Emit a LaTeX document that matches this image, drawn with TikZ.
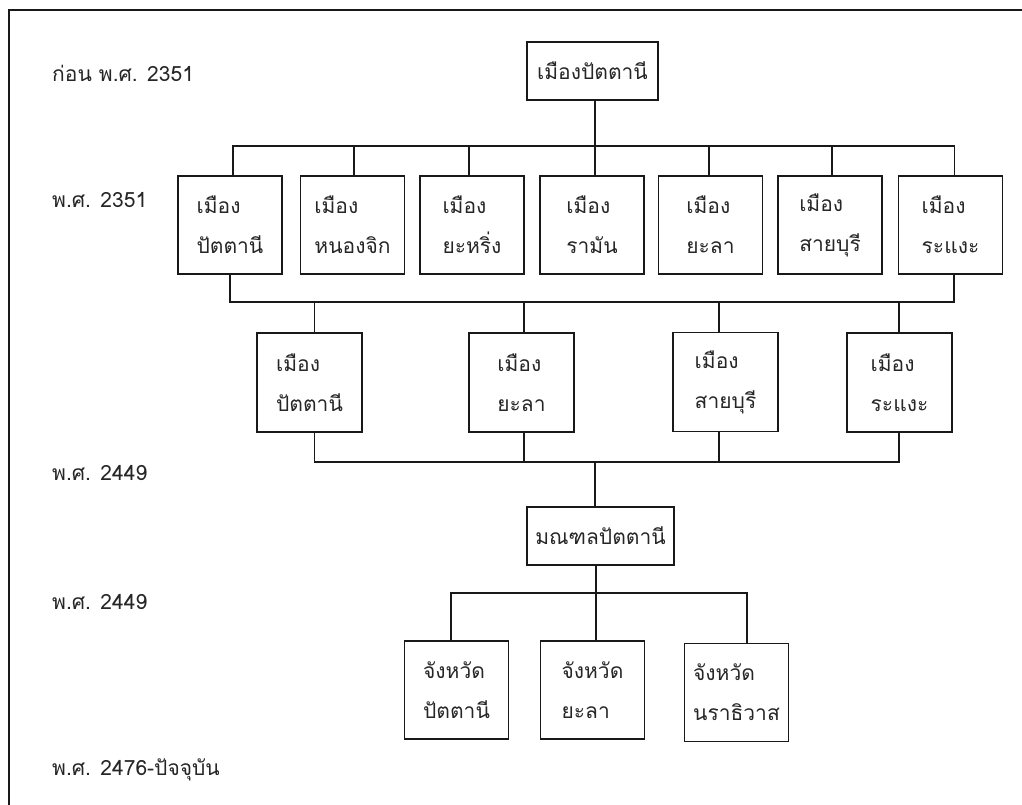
\documentclass[tikz,border=0pt]{standalone}
\usepackage{fontspec}
\setmainfont{Loma}[Script=Thai]
\begin{document}
\begin{tikzpicture}[x=1pt,y=-1pt,
  txt/.style={font=\fontsize{21}{40}\selectfont, text=black!85},
  box/.style={draw=black!90, line width=1.3pt, txt, align=left, inner sep=0pt},
  lbl/.style={txt, anchor=west, inner sep=0pt},
  conn/.style={draw=black!90, line width=1.3pt}]
\useasboundingbox (0,0) rectangle (1022,805);
% frame
\coordinate (f1) at (1022,10);
\coordinate (f2) at (9,10);
\coordinate (f3) at (9,805);
\draw[conn] (f1) -- (f2) -- (f3);
% labels
\node[lbl] (l1) at (52,73) {ก่อน พ.ศ. 2351};
\node[lbl] (l2) at (52,200) {พ.ศ. 2351};
\node[lbl] (l3) at (52,473) {พ.ศ. 2449};
\node[lbl] (l4) at (52,602) {พ.ศ. 2449};
\node[lbl] (l5) at (52,770) {พ.ศ. 2476-ปัจจุบัน};
% top
\node[box, minimum width=131, minimum height=58] (top) at (592.5,71) {เมืองปัตตานี};
% row 2
\tikzset{r2/.style={box, minimum width=104, minimum height=98}}
\node[r2] (a1) at (230,225) {เมือง\\ปัตตานี};
\node[r2] (a2) at (352.5,225) {เมือง\\หนองจิก};
\node[r2] (a3) at (472,225) {เมือง\\ยะหริ่ง};
\node[r2] (a4) at (592,225) {เมือง\\รามัน};
\node[r2] (a5) at (710.5,225) {เมือง\\ยะลา};
\node[r2] (a6) at (830,225) {เมือง\\สายบุรี};
\node[r2] (a7) at (950.5,225) {เมือง\\ระแงะ};
% row 3
\tikzset{r3/.style={box, minimum width=105, minimum height=99}}
\node[r3] (b1) at (309.5,382.5) {เมือง\\ปัตตานี};
\node[r3] (b2) at (521.5,382.5) {เมือง\\ยะลา};
\node[r3] (b3) at (725.5,382) {เมือง\\สายบุรี};
\node[r3] (b4) at (899.5,382.5) {เมือง\\ระแงะ};
% mandala
\node[box, minimum width=147, minimum height=58] (m) at (600.5,536) {มณฑลปัตตานี};
% row 4
\tikzset{r4/.style={box, minimum width=104, minimum height=98}}
\node[r4] (c1) at (456.5,690) {จังหวัด\\ปัตตานี};
\node[r4] (c2) at (592.5,690) {จังหวัด\\ยะลา};
\node[r4] (c3) at (736.5,692.5) {จังหวัด\\นราธิวาส};
% connectors: top -> row 2
\coordinate (busA) at (0,146);
\draw[conn] ([xshift=3]a1.north) |- ([xshift=4]a7.north |- busA) -- ([xshift=4]a7.north);
\draw[conn] ([xshift=2.5]top.south) -- ([xshift=2.5]top.south |- busA);
\foreach \n/\s in {a2/1.5, a3/-3, a4/3, a5/-1.5, a6/2}
  \draw[conn] ([xshift=\s]\n.north) -- ([xshift=\s]\n.north |- busA);
% row 2 -> row 3
\coordinate (busB) at (0,302);
\draw[conn] (a1.south) |- ([xshift=3.5]a7.south |- busB) -- ([xshift=3.5]a7.south);
\foreach \n/\s in {b1/5, b2/2.5, b3/-6.5, b4/-0.5}
  \draw[conn] ([xshift=\s]\n.north) -- ([xshift=\s]\n.north |- busB);
% row 3 -> mandala
\coordinate (busC) at (0,462);
\draw[conn] ([xshift=5]b1.south) |- ([xshift=-0.5]b4.south |- busC) -- ([xshift=-0.5]b4.south);
\foreach \n/\s in {b2/2.5, b3/-6.5}
  \draw[conn] ([xshift=\s]\n.south) -- ([xshift=\s]\n.south |- busC);
\draw[conn] ([xshift=-5.5]m.north) -- ([xshift=-5.5]m.north |- busC);
% mandala -> row 4
\coordinate (busD) at (0,593);
\draw[conn] ([xshift=-4.5]m.south) -- ([xshift=-4.5]m.south |- busD);
\draw[conn] ([xshift=-5.5]c1.north) |- ([xshift=10.5]c3.north |- busD) -- ([xshift=10.5]c3.north);
\draw[conn] ([xshift=3.5]c2.north) -- ([xshift=3.5]c2.north |- busD);
\end{tikzpicture}
\end{document}
